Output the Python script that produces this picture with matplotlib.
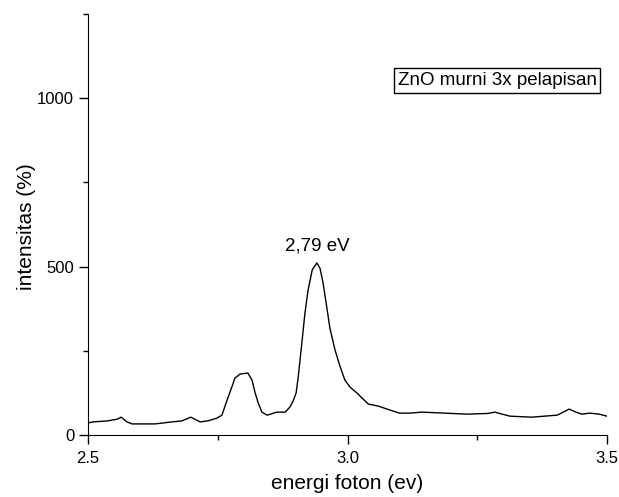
import numpy as np
import matplotlib.pyplot as plt
from matplotlib.ticker import MultipleLocator

plt.rcParams['font.family'] = ['Liberation Sans', 'DejaVu Sans']

# photon energy (eV) and intensity (%)
energi = [2.500, 2.510, 2.538, 2.556, 2.564, 2.575, 2.585, 2.629, 2.662, 2.681,
          2.698, 2.716, 2.731, 2.748, 2.758, 2.768, 2.777, 2.783, 2.793, 2.808,
          2.816, 2.822, 2.828, 2.835, 2.845, 2.864, 2.880, 2.889, 2.895, 2.901,
          2.905, 2.912, 2.918, 2.924, 2.932, 2.941, 2.947, 2.953, 2.960, 2.966,
          2.976, 2.986, 2.995, 3.005, 3.018, 3.028, 3.040, 3.059, 3.082, 3.100,
          3.120, 3.143, 3.172, 3.230, 3.270, 3.284, 3.298, 3.313, 3.355, 3.404,
          3.416, 3.427, 3.440, 3.452, 3.467, 3.485, 3.500]
intensitas = [36, 39, 42, 47, 53, 39, 33, 33, 39, 42,
              53, 39, 42, 50, 59, 104, 142, 169, 181, 184,
              163, 125, 95, 68, 59, 68, 68, 83, 100, 125,
              172, 273, 362, 430, 490, 511, 495, 451, 380, 318,
              252, 202, 163, 142, 125, 110, 92, 86, 74, 65,
              65, 68, 66, 62, 64, 68, 62, 56, 53, 59,
              68, 77, 68, 62, 65, 62, 56]

label_sampel = 'ZnO murni 3x pelapisan'
label_puncak = '2,79 eV'

fig = plt.figure(figsize=(6.19, 4.97), dpi=100)
ax = fig.add_axes([0.1422, 0.1247, 0.8384, 0.8471])
ax.plot(energi, intensitas, color='black', linewidth=1.0)

ax.set_xlim(2.5, 3.5)
ax.set_ylim(0, 1250)
ax.xaxis.set_major_locator(MultipleLocator(0.5))
ax.xaxis.set_minor_locator(MultipleLocator(0.25))
ax.yaxis.set_major_locator(MultipleLocator(500))
ax.yaxis.set_minor_locator(MultipleLocator(250))
ax.xaxis.set_major_formatter(plt.FuncFormatter(lambda v, p: f'{v:.1f}'))

for s in ['top', 'right']:
    ax.spines[s].set_visible(False)
ax.tick_params(which='major', direction='out', length=6.5, width=1, labelsize=12)
ax.tick_params(which='minor', direction='out', length=3.5, width=1)
ax.tick_params(axis='y', pad=3.5)
ax.tick_params(axis='x', pad=5)

ax.set_xlabel('energi foton (ev)', fontsize=15, labelpad=6)
ax.set_ylabel('intensitas (%)', fontsize=15)
ax.yaxis.set_label_coords(-0.10, 0.494)

ax.text(2.941, 535, label_puncak, ha='center', va='bottom', fontsize=13.5)
ax.text(0.98, 0.842, label_sampel, transform=ax.transAxes, ha='right', va='center',
        fontsize=13.5,
        bbox=dict(boxstyle='square,pad=0.2', facecolor='white', edgecolor='black', linewidth=1))

fig.savefig('out.png', dpi=100)
